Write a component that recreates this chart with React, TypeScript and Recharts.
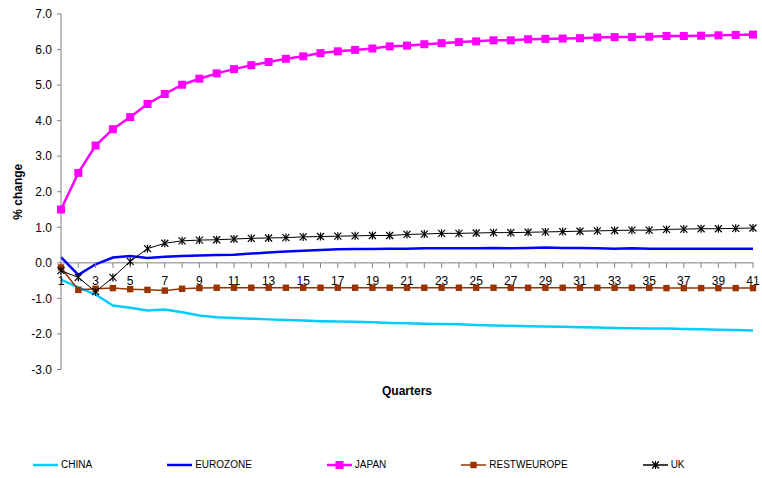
import React from 'react';
import { LineChart, Line, XAxis, YAxis, ReferenceLine, ReferenceDot, Legend } from 'recharts';

const quarters = [1, 2, 3, 4, 5, 6, 7, 8, 9, 10, 11, 12, 13, 14, 15, 16, 17, 18, 19, 20, 21, 22, 23, 24, 25, 26, 27, 28, 29, 30, 31, 32, 33, 34, 35, 36, 37, 38, 39, 40, 41];
const china = [-0.47, -0.69, -0.89, -1.2, -1.26, -1.34, -1.31, -1.39, -1.48, -1.53, -1.55, -1.57, -1.59, -1.61, -1.62, -1.64, -1.65, -1.66, -1.67, -1.69, -1.7, -1.71, -1.72, -1.73, -1.75, -1.76, -1.77, -1.78, -1.79, -1.8, -1.81, -1.82, -1.83, -1.84, -1.85, -1.85, -1.86, -1.87, -1.88, -1.89, -1.9];
const eurozone = [0.16, -0.34, -0.04, 0.15, 0.19, 0.14, 0.17, 0.19, 0.21, 0.22, 0.23, 0.26, 0.29, 0.32, 0.34, 0.36, 0.38, 0.39, 0.39, 0.4, 0.4, 0.41, 0.41, 0.41, 0.41, 0.42, 0.41, 0.42, 0.43, 0.42, 0.42, 0.41, 0.4, 0.41, 0.4, 0.4, 0.4, 0.4, 0.4, 0.4, 0.4];
const japan = [1.5, 2.53, 3.3, 3.76, 4.1, 4.47, 4.75, 5.01, 5.18, 5.33, 5.45, 5.56, 5.65, 5.74, 5.81, 5.9, 5.95, 5.99, 6.03, 6.09, 6.11, 6.15, 6.18, 6.21, 6.23, 6.26, 6.26, 6.29, 6.3, 6.31, 6.32, 6.34, 6.35, 6.35, 6.36, 6.38, 6.38, 6.39, 6.4, 6.41, 6.42];
const restweurope = [-0.13, -0.76, -0.73, -0.71, -0.74, -0.76, -0.78, -0.73, -0.71, -0.7, -0.7, -0.7, -0.7, -0.7, -0.7, -0.7, -0.7, -0.7, -0.7, -0.7, -0.7, -0.7, -0.7, -0.7, -0.7, -0.7, -0.7, -0.7, -0.7, -0.7, -0.7, -0.7, -0.7, -0.7, -0.7, -0.71, -0.71, -0.71, -0.71, -0.71, -0.71];
const uk = [-0.22, -0.41, -0.81, -0.41, 0.04, 0.4, 0.55, 0.62, 0.64, 0.65, 0.67, 0.69, 0.7, 0.71, 0.73, 0.74, 0.75, 0.76, 0.77, 0.77, 0.8, 0.81, 0.83, 0.83, 0.84, 0.85, 0.85, 0.86, 0.87, 0.88, 0.89, 0.9, 0.91, 0.92, 0.92, 0.94, 0.95, 0.96, 0.96, 0.97, 0.98];
const yTicks = [-3, -2, -1, 0, 1, 2, 3, 4, 5, 6, 7];
const xLabelQuarters = [1, 3, 5, 7, 9, 11, 13, 15, 17, 19, 21, 23, 25, 27, 29, 31, 33, 35, 37, 39, 41];

const data = quarters.map((q, i) => ({
  q,
  CHINA: china[i],
  EUROZONE: eurozone[i],
  JAPAN: japan[i],
  RESTWEUROPE: restweurope[i],
  UK: uk[i],
}));

const FONT = '"Liberation Sans", Arial, sans-serif';

type Marker = 'none' | 'square' | 'smallsquare' | 'star';
const series: { key: string; color: string; width: number; marker: Marker }[] = [
  { key: 'CHINA', color: '#00CCFF', width: 2.5, marker: 'none' },
  { key: 'EUROZONE', color: '#0000FF', width: 2.5, marker: 'none' },
  { key: 'JAPAN', color: '#FF00FF', width: 2.5, marker: 'square' },
  { key: 'RESTWEUROPE', color: '#993300', width: 1.5, marker: 'smallsquare' },
  { key: 'UK', color: '#000000', width: 1, marker: 'star' },
];

function drawMarker(marker: Marker, cx: number, cy: number, color: string, key?: string) {
  if (marker === 'square') {
    return <rect key={key} x={cx - 4} y={cy - 4} width={8} height={8} fill={color} stroke="none" />;
  }
  if (marker === 'smallsquare') {
    return <rect key={key} x={cx - 3.2} y={cy - 3.2} width={6.4} height={6.4} fill={color} stroke="none" />;
  }
  if (marker === 'star') {
    const s = 3.5;
    return (
      <g key={key} stroke={color} strokeWidth={1.2} fill="none">
        <line x1={cx - s} y1={cy - s} x2={cx + s} y2={cy + s} />
        <line x1={cx - s} y1={cy + s} x2={cx + s} y2={cy - s} />
        <line x1={cx} y1={cy - s - 0.5} x2={cx} y2={cy + s + 0.5} />
      </g>
    );
  }
  return <g key={key} />;
}

const renderLegend = () => (
  <div style={{ height: 20, display: 'flex', alignItems: 'center', paddingLeft: 33, gap: 75, fontFamily: FONT, fontSize: 10, color: '#000' }}>
    {series.map((s) => (
      <div key={s.key} style={{ display: 'flex', alignItems: 'center' }}>
        <svg width={25} height={10} style={{ display: 'block' }}>
          <line x1={0} y1={5} x2={25} y2={5} stroke={s.color} strokeWidth={Math.max(s.width, 1.5)} />
          {drawMarker(s.marker, 12.5, 5, s.color)}
        </svg>
        <span style={{ marginLeft: 3, lineHeight: '10px' }}>{s.key}</span>
      </div>
    ))}
  </div>
);

export default function App() {
  return (
    <div style={{ position: 'absolute', left: 0, top: 0, fontFamily: FONT }}>
      <LineChart width={762} height={478} data={data} margin={{ top: 14, right: 9, left: 0, bottom: 3 }}>
        <XAxis
          dataKey="q"
          height={85.5}
          tick={false}
          axisLine={false}
          tickLine={false}
          label={{
            content: (props: any) => {
              const vb = props.viewBox || {};
              return (
                <text x={vb.x + vb.width / 2} y={vb.y + 25.5} textAnchor="middle" fontFamily={FONT} fontSize={12} fontWeight="bold" fill="#000">
                  Quarters
                </text>
              );
            },
          }}
        />
        <YAxis
          width={61}
          domain={[-3, 7]}
          ticks={yTicks}
          interval={0}
          allowDataOverflow
          tickFormatter={(v: number) => v.toFixed(1)}
          tick={{ fontSize: 12, fill: '#000', fontFamily: FONT }}
          axisLine={{ stroke: '#808080', strokeWidth: 1 }}
          tickLine={{ stroke: '#808080', strokeWidth: 1 }}
          tickSize={4}
          tickMargin={5}
          label={{
            content: (props: any) => {
              const vb = props.viewBox || {};
              const cy = vb.y + vb.height / 2;
              return (
                <text x={22} y={cy} transform={`rotate(-90, 22, ${cy})`} textAnchor="middle" fontFamily={FONT} fontSize={12} fontWeight="bold" fill="#000">
                  % change
                </text>
              );
            },
          }}
        />
        <ReferenceLine y={0} stroke="#808080" strokeWidth={1} />
        {quarters.map((q) => (
          <ReferenceDot
            key={`t${q}`}
            x={q}
            y={0}
            r={0}
            shape={(p: any) => (
              <g>
                <line x1={p.cx} y1={p.cy} x2={p.cx} y2={p.cy + 5} stroke="#808080" strokeWidth={1} />
                {xLabelQuarters.includes(q) && (
                  <text x={p.cx} y={p.cy + 22} textAnchor="middle" fontFamily={FONT} fontSize={12} fill="#000">
                    {q}
                  </text>
                )}
              </g>
            )}
          />
        ))}
        {series.map((s) => (
          <Line
            key={s.key}
            type="linear"
            dataKey={s.key}
            stroke={s.color}
            strokeWidth={s.width}
            isAnimationActive={false}
            activeDot={false}
            dot={
              s.marker === 'none'
                ? false
                : (p: any) => drawMarker(s.marker, p.cx, p.cy, s.color, `${s.key}-${p.index}`)
            }
          />
        ))}
        <Legend verticalAlign="bottom" align="left" height={20} content={renderLegend} />
      </LineChart>
    </div>
  );
}
